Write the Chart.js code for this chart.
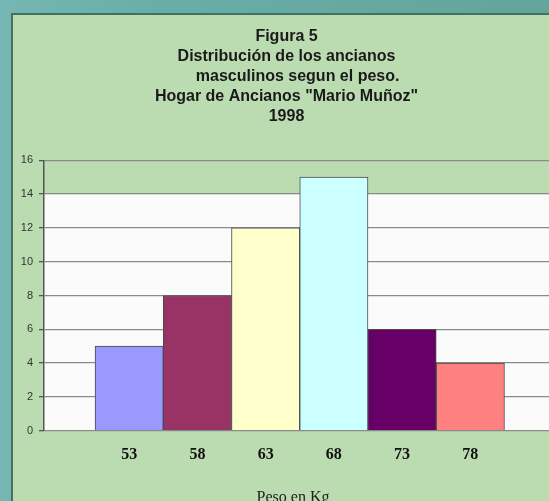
<!DOCTYPE html>
<html>
<head>
<meta charset="utf-8">
<script src="https://cdn.jsdelivr.net/npm/chart.js@4.4.0/dist/chart.umd.min.js"></script>
<style>
  html, body { margin: 0; padding: 0; width: 549px; height: 501px; overflow: hidden; }
  body { position: relative; background: linear-gradient(90deg, #74b7b3 0%, #68ada8 30%, #62a59a 100%); }
  #panel { position: absolute; left: 11px; top: 13px; width: 600px; height: 520px;
           background: #bbdcb0; border-left: 2px solid #44705f; border-top: 2px solid #44705f; }
  #wrap { position: absolute; left: 0; top: 0; width: 600px; height: 520px; }
</style>
</head>
<body>
<div id="panel"></div>
<div id="wrap"><canvas id="c" width="600" height="520"></canvas></div>
<script>
// Weight classes (kg) and number of men in each class
const weights = [53, 58, 63, 68, 73, 78];
const counts = [5, 8, 12, 15, 6, 4];
const barColors = ['#9999ff', '#993366', '#ffffcc', '#ccffff', '#660066', '#ff8080'];
const yTicks = [0, 2, 4, 6, 8, 10, 12, 14, 16];
const titleLines = [
  'Figura 5',
  'Distribución de los ancianos',
  '     masculinos segun el peso.',
  'Hogar de Ancianos "Mario Muñoz"',
  '1998'
];
const xTitle = 'Peso en Kg   ';

// White plot background, painted up to the 14 line
const plotFill = {
  id: 'plotFill',
  beforeDraw(chart) {
    const { ctx, chartArea: a, scales: { y } } = chart;
    const top = y.getPixelForValue(14);
    const bottom = y.getPixelForValue(0);
    ctx.save();
    ctx.fillStyle = '#fbfbfb';
    ctx.fillRect(a.left, top, a.right - a.left, bottom - top);
    ctx.restore();
  }
};

new Chart(document.getElementById('c'), {
  type: 'bar',
  data: {
    datasets: [{
      data: weights.map((w, i) => ({ x: w, y: counts[i] })),
      backgroundColor: barColors,
      borderColor: '#4a4a4a',
      borderWidth: 1,
      barPercentage: 1,
      categoryPercentage: 1
    }]
  },
  options: {
    responsive: false,
    animation: false,
    devicePixelRatio: 1,
    layout: { padding: { left: 19, right: 46, top: 0, bottom: 0 } },
    plugins: {
      legend: { display: false },
      tooltip: { enabled: false },
      title: {
        display: true,
        text: titleLines,
        color: '#1a1a1a',
        font: { family: 'Liberation Sans, Arial, sans-serif', size: 16, weight: 'bold', lineHeight: 1.25 },
        padding: { top: 26.7, bottom: 33.6 }
      }
    },
    scales: {
      x: {
        type: 'linear',
        offset: false,
        min: 46.76,
        max: 84.13,
        afterBuildTicks(s) { s.ticks = weights.map(v => ({ value: v })); },
        afterFit(s) { s.height = 89.3; },
        grid: { display: false, drawTicks: false },
        border: { display: false },
        ticks: {
          autoSkip: false, maxRotation: 0, padding: 14.5,
          color: '#111',
          font: { family: 'Liberation Serif, Times New Roman, serif', size: 16, weight: 'bold' },
          callback: v => String(v)
        },
        title: {
          display: true, text: xTitle, color: '#222',
          font: { family: 'Liberation Serif, Times New Roman, serif', size: 16 },
          padding: { top: 0, bottom: 12.5 }
        }
      },
      y: {
        min: 0,
        max: 16,
        afterBuildTicks(s) { s.ticks = yTicks.map(v => ({ value: v })); },
        afterFit(s) { s.width = 25; },
        grid: { color: '#8a8a8a', lineWidth: 1.3, drawTicks: true, tickLength: 5, tickColor: '#555' },
        border: { color: '#555', width: 1.5 },
        ticks: {
          padding: 6, color: '#333',
          font: { family: 'Liberation Sans, Arial, sans-serif', size: 11 }
        }
      }
    }
  },
  plugins: [plotFill]
});
</script>
</body>
</html>
